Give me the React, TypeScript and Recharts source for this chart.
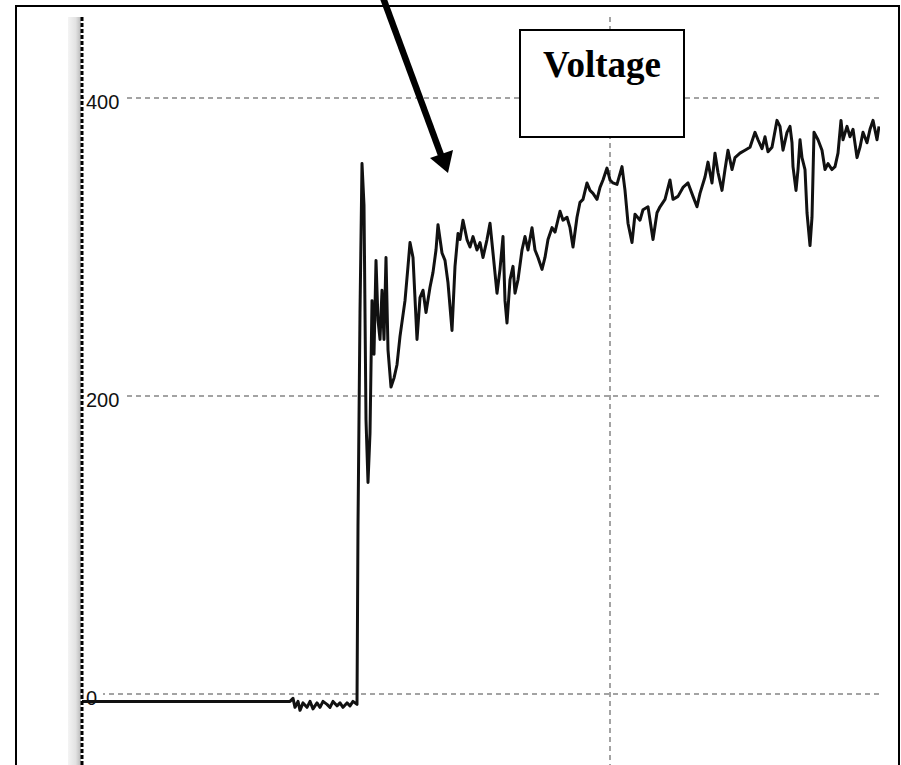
import { ComposedChart, Line, XAxis, YAxis, CartesianGrid } from 'recharts'

const times = [
  0, 208, 211, 213, 216, 218, 221, 225, 228, 231, 235, 238, 241, 245, 248, 251, 255, 258, 261, 265, 268, 271, 275,
  276, 278, 280, 282, 284, 286, 288, 290, 292, 294, 296, 298, 300, 302, 304, 306, 309, 312, 315, 318, 323, 326, 328,
  331, 335, 338, 341, 344, 348, 351, 354, 356, 360, 363, 366, 370, 373, 376, 378, 381, 385, 388, 391, 395, 398, 401,
  405, 408, 411, 415, 418, 421, 423, 425, 428, 431, 433, 436, 440, 443, 446, 450, 453, 456, 460, 463, 466, 470, 473,
  478, 481, 485, 488, 491, 495, 498, 501, 505, 508, 511, 515, 518, 521, 525, 528, 531, 535, 540, 543, 546, 550, 553,
  558, 561, 566, 571, 575, 578, 583, 588, 591, 596, 601, 606, 611, 615, 618, 623, 626, 630, 633, 636, 640, 643, 646,
  650, 653, 658, 663, 668, 673, 676, 680, 683, 686, 690, 695, 698, 701, 705, 708, 710, 711, 714, 716, 718, 720, 723,
  725, 728, 730, 732, 736, 740, 743, 746, 750, 753, 756, 759, 761, 765, 768, 771, 775, 778, 781, 785, 788, 791, 795,
  797,
]
const voltage = [
  -5, -5, -3, -9, -5, -11, -6, -9, -5, -10, -6, -9, -5, -7, -9, -5, -8, -6, -9, -6, -8, -5, -7,
  113, 256, 356, 328, 184, 142, 175, 264, 228, 291, 251, 238, 271, 238, 293, 231, 206, 212, 221, 240, 264, 287, 303,
  293, 238, 266, 271, 256, 273, 283, 298, 315, 296, 291, 276, 244, 287, 309, 305, 318, 305, 300, 307, 298, 303, 293,
  305, 316, 296, 269, 285, 307, 264, 249, 278, 287, 269, 278, 298, 307, 298, 313, 298, 293, 285, 293, 305, 313, 310,
  324, 318, 320, 313, 300, 320, 330, 332, 343, 338, 336, 332, 340, 345, 353, 345, 343, 342, 354, 338, 316, 303, 322,
  318, 325, 327, 305, 323, 327, 332, 345, 332, 334, 340, 343, 334, 327, 336, 347, 357, 343, 363, 350, 338, 352, 365,
  352, 360, 363, 365, 367, 377, 372, 366, 374, 364, 367, 385, 381, 365, 377, 381, 370, 354, 338, 352, 372, 360, 352,
  323, 301, 320, 377, 372, 365, 352, 356, 352, 354, 363, 385, 372, 381, 374, 379, 360, 367, 377, 370, 379, 385, 372,
  381,
]
const yTicks = [0, 200, 400]
const xGrid = [528]

const data = times.map((t, i) => ({ t, v: voltage[i] }))

const VoltTick = (props: any) => {
  const { y, payload } = props
  const label = String(payload.value)
  return (
    <g>
      <rect x={84} y={y - 2} width={label.length * 11 + 8} height={4} fill="#fff" />
      <text x={86} y={y + 11} fontSize={20} fontFamily="'Liberation Sans', Arial" fill="#111" textAnchor="start">
        {label}
      </text>
    </g>
  )
}

export default function App() {
  return (
    <div style={{ position: 'absolute', left: 0, top: 0, width: 901, height: 765, overflow: 'hidden', background: '#fff' }}>
      <div
        style={{
          position: 'absolute',
          left: 15,
          top: 5,
          width: 881,
          height: 820,
          border: '2px solid #000',
        }}
      />
      <div
        style={{
          position: 'absolute',
          left: 68,
          top: 17,
          width: 13,
          height: 760,
          background: 'linear-gradient(to right, #f4f4f4, #e2e2e2 60%, #b8b8b8)',
        }}
      />
      <div style={{ position: 'absolute', left: 0, top: 0 }}>
        <ComposedChart width={901} height={765} data={data} margin={{ top: 17, right: 21, bottom: 0, left: 82 }}>
          <CartesianGrid
            stroke="#858585"
            strokeWidth={1.5}
            strokeDasharray="5 4"
            horizontalValues={yTicks}
            verticalValues={xGrid}
          />
          <XAxis dataKey="t" type="number" domain={[0, 798]} hide allowDataOverflow />
          <YAxis
            type="number"
            domain={[-47.7, 454.4]}
            ticks={yTicks}
            mirror
            width={1}
            allowDataOverflow
            tickLine={false}
            axisLine={{ stroke: '#000', strokeWidth: 3, strokeDasharray: '4 2' }}
            tick={VoltTick}
          />
          <Line
            type="linear"
            dataKey="v"
            stroke="#111"
            strokeWidth={3}
            strokeLinejoin="round"
            dot={false}
            isAnimationActive={false}
          />
        </ComposedChart>
      </div>
      <svg width={901} height={765} style={{ position: 'absolute', left: 0, top: 0, pointerEvents: 'none' }}>
        <rect x={520} y={30} width={164} height={107} fill="#fff" stroke="#000" strokeWidth={2} />
        <text
          x={602}
          y={77}
          textAnchor="middle"
          fontSize={37}
          fontWeight="bold"
          fontFamily="'Liberation Serif', 'Times New Roman', serif"
          fill="#000"
        >
          Voltage
        </text>
        <line x1={382} y1={-5} x2={441} y2={155} stroke="#000" strokeWidth={6.5} />
        <polygon points="448,173 453,150 430,158" fill="#000" />
      </svg>
    </div>
  )
}
